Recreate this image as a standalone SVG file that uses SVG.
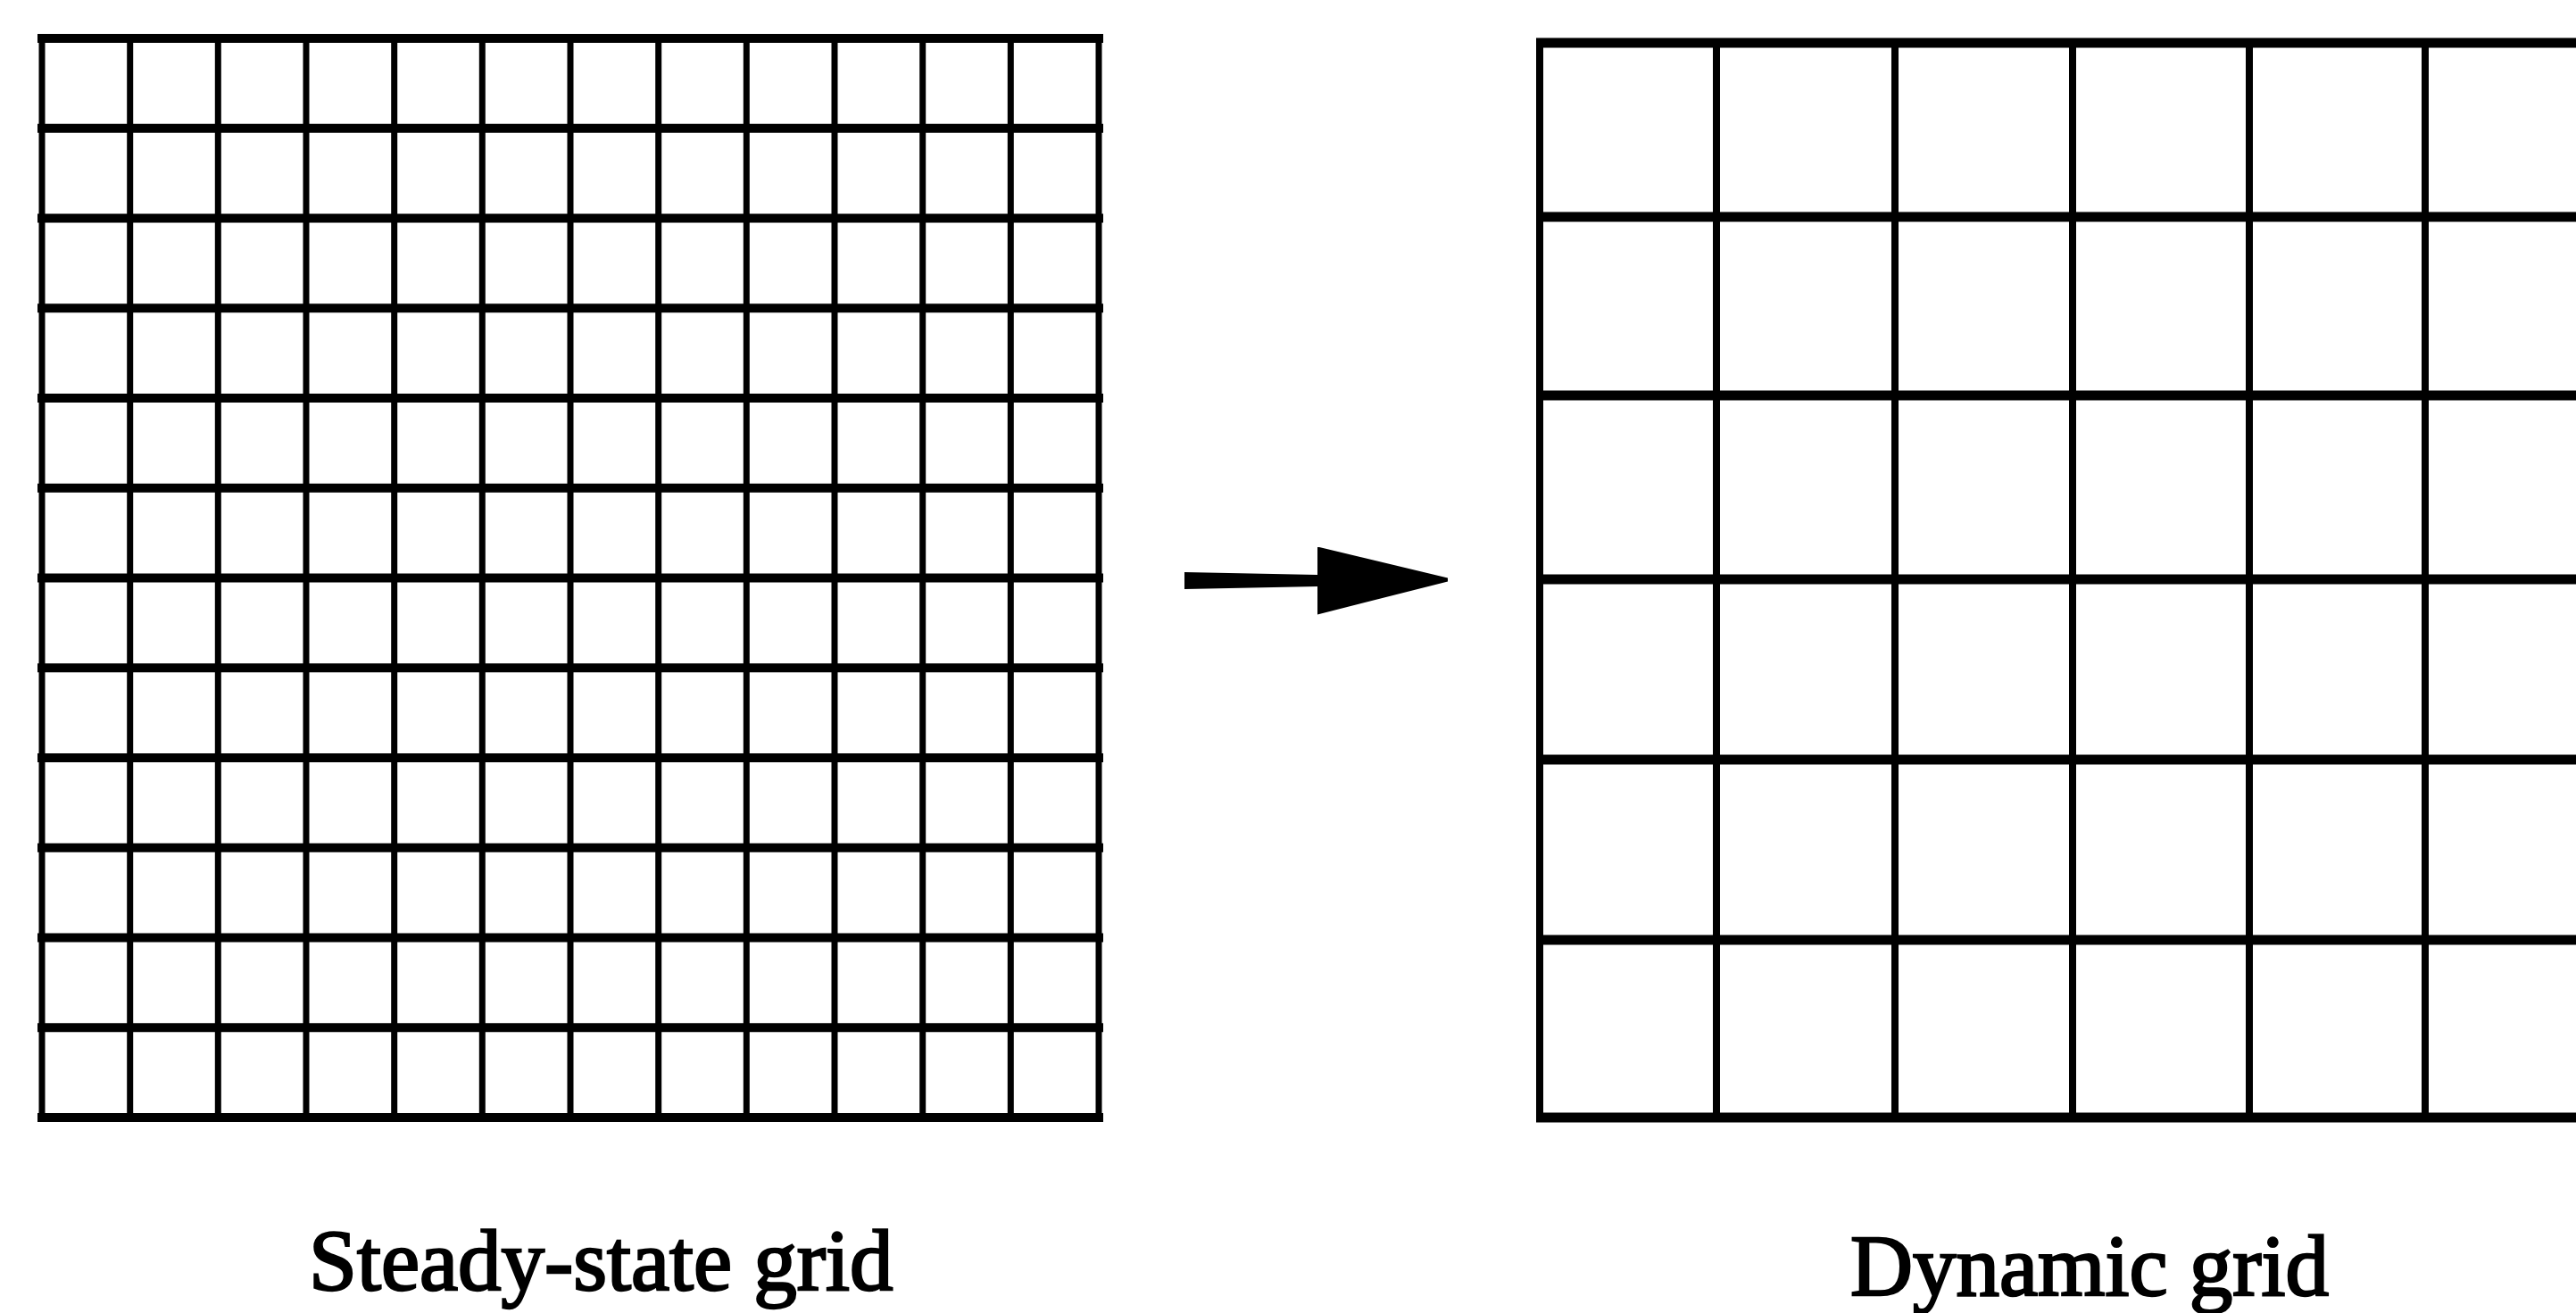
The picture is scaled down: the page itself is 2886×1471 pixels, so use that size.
<svg xmlns="http://www.w3.org/2000/svg" width="2886" height="1471" viewBox="0 0 2886 1471">
<style>
  .v { stroke: #000; stroke-width: 7; fill: none; stroke-linecap: square; }
  .h { stroke: #000; stroke-width: 10; fill: none; stroke-linecap: square; }
  .v2 { stroke: #000; stroke-width: 8; fill: none; stroke-linecap: square; }
  .h2 { stroke: #000; stroke-width: 11; fill: none; }
  .lbl { font-family: "Liberation Serif", "Times New Roman", serif; font-size: 97px; fill: #000; stroke: #000; stroke-width: 2.5; }
</style>
<defs>
  <marker id="head" markerUnits="userSpaceOnUse" markerWidth="150" markerHeight="80" viewBox="0 0 150 80" refX="0" refY="38" orient="auto">
    <path d="M0,0 L146,35 L146,39 L0,76 Z" fill="#000"/>
  </marker>
</defs>
<rect width="2886" height="1471" fill="#fff"/>
<g id="steady-grid">
  <path class="h" d="M47,43H1231 M47,143.75H1231 M47,244.5H1231 M47,345.25H1231 M47,446H1231 M47,546.75H1231 M47,647.5H1231 M47,748.25H1231 M47,849H1231 M47,949.75H1231 M47,1050.5H1231 M47,1151.25H1231 M47,1252H1231"/>
  <path class="v" d="M47,43V1252 M145.7,43V1252 M244.3,43V1252 M343,43V1252 M441.7,43V1252 M540.3,43V1252 M639,43V1252 M737.7,43V1252 M836.3,43V1252 M935,43V1252 M1033.7,43V1252 M1132.3,43V1252 M1231,43V1252"/>
  <text class="lbl" x="346" y="1445">Steady-state grid</text>
</g>
<g id="dynamic-grid">
  <path class="h2" d="M1721,48H2886 M1721,243H2886 M1721,443H2886 M1721,649H2886 M1721,851H2886 M1721,1053H2886 M1721,1252H2886"/>
  <path class="v2" d="M1725,48V1252 M1923,48V1252 M2123,48V1252 M2322,48V1252 M2520,48V1252 M2717,48V1252"/>
  <text class="lbl" x="2073" y="1451">Dynamic grid</text>
</g>
<g id="connectors">
  <path d="M1327,641 L1476,644 L1476,657 L1327,660 Z" fill="#000"/>
  <path d="M1327,650.5 H1476" stroke="#000" stroke-width="12" fill="none" marker-end="url(#head)"/>
</g>
</svg>
